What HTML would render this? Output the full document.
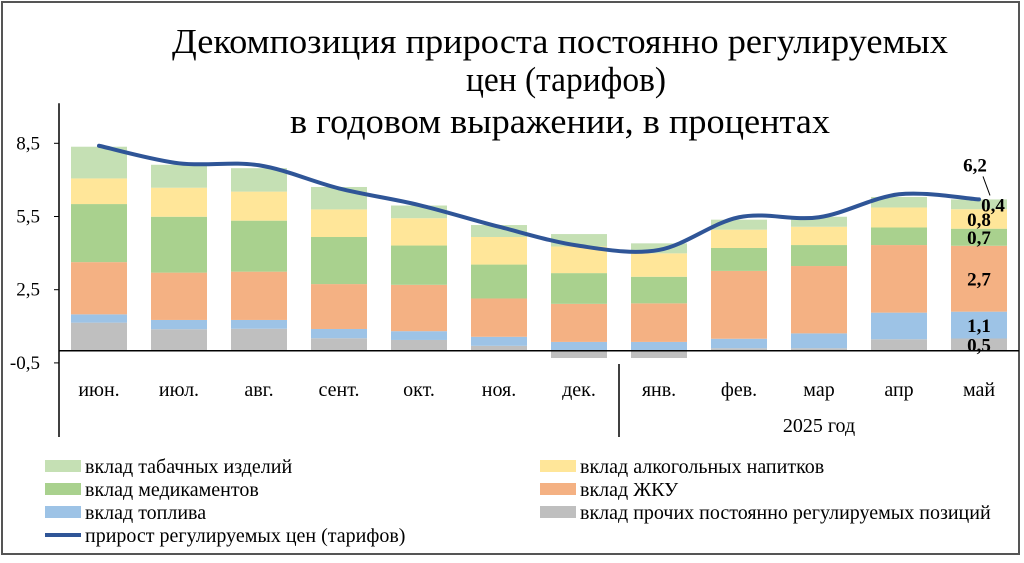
<!DOCTYPE html>
<html><head><meta charset="utf-8"><style>
body{margin:0;background:#fff;}
svg text{font-family:"Liberation Serif",serif;}
</style></head><body>
<svg width="1024" height="558" viewBox="0 0 1024 558" xmlns="http://www.w3.org/2000/svg">
<rect x="2" y="2" width="1017" height="552" fill="#fff" stroke="#555" stroke-width="2"/>
<g font-size="35" fill="#000">
<text x="172" y="53" textLength="776" lengthAdjust="spacingAndGlyphs">Декомпозиция прироста постоянно регулируемых</text>
<text x="466" y="91" textLength="200" lengthAdjust="spacingAndGlyphs">цен (тарифов)</text>
<text x="290" y="133" textLength="540" lengthAdjust="spacingAndGlyphs">в годовом выражении, в процентах</text>
</g>
<g id="plot"></g>
<g id="legend" font-size="20"></g>
</svg>
<script>
const categories=["июн.","июл.","авг.","сент.","окт.","ноя.","дек.","янв.","фев.","мар","апр","май"];
const other=[1.15,0.88,0.9,0.51,0.44,0.2,-0.3,-0.3,0.1,0.1,0.47,0.5];
const fuel=[0.34,0.38,0.36,0.38,0.36,0.37,0.36,0.36,0.39,0.61,1.09,1.1];
const housing=[2.14,1.94,1.98,1.84,1.9,1.57,1.56,1.58,2.78,2.76,2.77,2.7];
const medicine=[2.38,2.29,2.09,1.93,1.61,1.39,1.26,1.09,0.94,0.86,0.72,0.7];
const alcohol=[1.05,1.19,1.19,1.13,1.12,1.13,1.09,0.96,0.75,0.75,0.82,0.8];
const tobacco=[1.3,0.94,0.96,0.92,0.52,0.49,0.51,0.41,0.41,0.41,0.43,0.4];
const total=[8.4,7.68,7.6,6.65,5.97,5.08,4.3,4.13,5.47,5.47,6.41,6.2];
const yTicks=[8.5,5.5,2.5,-0.5];
const yTickLabels=["8,5","5,5","2,5","-0,5"];
const mayLabels=["0,5","1,1","2,7","0,7","0,8","0,4"];
const totalLabel="6,2";

const NS="http://www.w3.org/2000/svg";
const plot=document.getElementById('plot');
const x0=59,step=80,bw=56,zeroY=350.7,unit=24.4;
const xs=i=>x0+step*i+step/2;
const ys=v=>zeroY-v*unit;
function mk(tag,attrs,parent){const e=document.createElementNS(NS,tag);for(const k in attrs)e.setAttribute(k,attrs[k]);(parent||plot).appendChild(e);return e;}

let ax=mk('line',{x1:x0,y1:ys(8.5)-40,x2:x0,y2:437,stroke:'#000','stroke-width':1.5});


yTicks.forEach((t,i)=>{
  let tk=mk('line',{x1:x0-5,y1:ys(t),x2:x0,y2:ys(t),stroke:'#000'});
  
  
  let tl=mk('text',{x:x0-19,y:ys(t)+6,'font-size':19,'text-anchor':'end'});
  tl.textContent=yTickLabels[i];
  
  
});

const series=[[other,'#bfbfbf'],[fuel,'#9dc3e6'],[housing,'#f4b183'],[medicine,'#a9d18e'],[alcohol,'#ffe699'],[tobacco,'#c5e0b4']];
const snames=['bar-other','bar-fuel','bar-housing','bar-medicine','bar-alcohol','bar-tobacco'];
categories.forEach((c,i)=>{
  let pos=0,neg=0;
  series.forEach(([arr,col],s)=>{
    const v=arr[i];let a,b;
    if(v>=0){a=pos;b=pos+v;pos=b;}else{a=neg+v;b=neg;neg=a;}
    let r=mk('rect',{x:xs(i)-bw/2,y:ys(b),width:bw,height:ys(a)-ys(b),fill:col});
    
    
  });
  let cl=mk('text',{x:xs(i),y:396,'font-size':20,'text-anchor':'middle'});
  cl.textContent=c;
  
  
});
let zl=mk('line',{x1:x0,y1:zeroY,x2:1019,y2:zeroY,stroke:'#000','stroke-width':1.5});


let sep=mk('line',{x1:x0+step*7,y1:364,x2:x0+step*7,y2:437,stroke:'#000','stroke-width':1.5});


let yr=mk('text',{x:xs(9),y:432,'font-size':20,'text-anchor':'middle'});
yr.textContent='2025 год';



const pts=total.map((v,i)=>[xs(i),ys(v)]);
let d=`M${pts[0][0]},${pts[0][1]}`;
for(let i=0;i<pts.length-1;i++){
  const p0=pts[i-1]||pts[i],p1=pts[i],p2=pts[i+1],p3=pts[i+2]||p2;
  const c1=[p1[0]+(p2[0]-p0[0])/6,p1[1]+(p2[1]-p0[1])/6];
  const c2=[p2[0]-(p3[0]-p1[0])/6,p2[1]-(p3[1]-p1[1])/6];
  d+=` C${c1[0]},${c1[1]} ${c2[0]},${c2[1]} ${p2[0]},${p2[1]}`;
}
let ln=mk('path',{d:d,fill:'none',stroke:'#2f5597','stroke-width':4,'stroke-linecap':'round'});



const li=11;let acc=0;
series.forEach(([arr],s)=>{
  const v=arr[li];const mid=acc+v/2;acc+=v;
  const xx=s===5?xs(li)+14:xs(li);
  let t=mk('text',{x:xx,y:ys(mid)+7,'font-size':19,'font-weight':'bold','text-anchor':'middle'});
  t.textContent=mayLabels[s];
  
  
});
let tt=mk('text',{x:xs(li)-4,y:ys(total[li])-28,'font-size':19,'font-weight':'bold','text-anchor':'middle'});
tt.textContent=totalLabel;


let ll=mk('line',{x1:xs(li)+4,y1:ys(total[li])-23,x2:xs(li)+11,y2:ys(total[li])-4,stroke:'#000'});



const lg=document.getElementById('legend');
const items=[['вклад табачных изделий','#c5e0b4',45,466],['вклад алкогольных напитков','#ffe699',540,466],
['вклад медикаментов','#a9d18e',45,489],['вклад ЖКУ','#f4b183',540,489],
['вклад топлива','#9dc3e6',45,512],['вклад прочих постоянно регулируемых позиций','#bfbfbf',540,512]];
items.forEach(([t,c,x,y])=>{
  let r=mk('rect',{x:x,y:y-6,width:36,height:12,fill:c},lg);
  
  
  let tx=mk('text',{x:x+40,y:y+7},lg);tx.textContent=t;
  
  
});
let lsw=mk('line',{x1:45,y1:535,x2:81,y2:535,stroke:'#2f5597','stroke-width':4},lg);


let ltx=mk('text',{x:85,y:542},lg);ltx.textContent='прирост регулируемых цен (тарифов)';


</script>
</body></html>
